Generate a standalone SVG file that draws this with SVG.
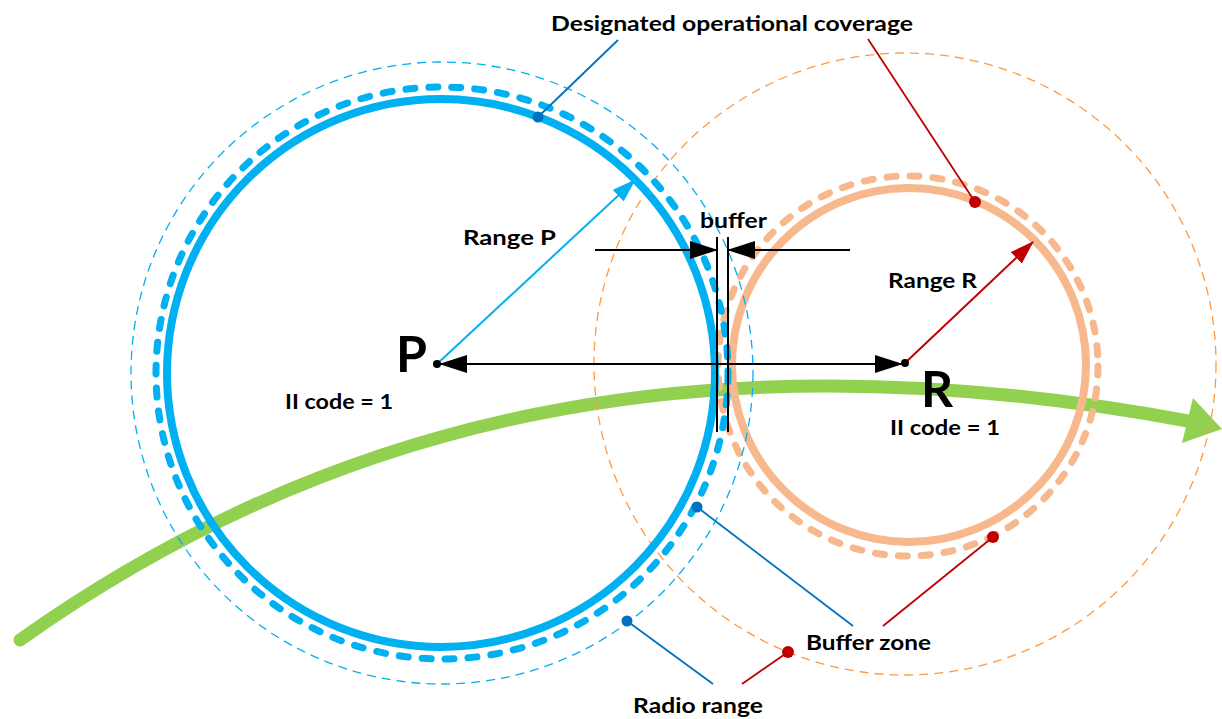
<svg xmlns="http://www.w3.org/2000/svg" width="1222" height="719" viewBox="0 0 1222 719">
<style>
text{font-family:Lato,"Liberation Sans",sans-serif;font-weight:bold;fill:#000}
.lbl{font-size:21px}
.big{font-size:50px}
.bsolid{fill:none;stroke:#00B0F0;stroke-width:8}
.bdash{fill:none;stroke:#00B0F0;stroke-width:7;stroke-dasharray:9 14;stroke-linecap:round}
.bthin{fill:none;stroke:#00B0F0;stroke-width:1.3;stroke-dasharray:9 6}
.osolid{fill:none;stroke:#F8B88E;stroke-width:8}
.odash{fill:none;stroke:#F8B88E;stroke-width:7;stroke-dasharray:9 14;stroke-linecap:round}
.othin{fill:none;stroke:#FF9A3C;stroke-width:1.3;stroke-dasharray:9 6}
.blk{stroke:#000;stroke-width:2;fill:none}
.cb{stroke:#0070C0;stroke-width:1.8;fill:none}
.cr{stroke:#C00000;stroke-width:1.8;fill:none}
</style>
<defs>
<marker id="ah" viewBox="0 0 28 18" refX="27" refY="9" markerWidth="28" markerHeight="18" markerUnits="userSpaceOnUse" orient="auto-start-reverse"><path d="M0,0 L28,9 L0,18 z" fill="#000"/></marker>
<marker id="ahb" viewBox="0 0 24 16" refX="23" refY="8" markerWidth="24" markerHeight="16" markerUnits="userSpaceOnUse" orient="auto"><path d="M0,0 L24,8 L0,16 z" fill="#00B0F0"/></marker>
<marker id="ahr" viewBox="0 0 24 16" refX="23" refY="8" markerWidth="24" markerHeight="16" markerUnits="userSpaceOnUse" orient="auto"><path d="M0,0 L24,8 L0,16 z" fill="#C00000"/></marker>
</defs>

<g id="flight-path">
<path d="M20,640 C330,420 700,330 1188,421" fill="none" stroke="#92D050" stroke-width="13" stroke-linecap="round"/>
<polygon points="1193,398 1222,429 1182,443" fill="#92D050"/>
</g>

<g id="node-R-circles">
<circle class="othin" cx="905" cy="364" r="311"/>
<circle class="odash" cx="908" cy="366" r="190"/>
<circle class="osolid" cx="909" cy="365" r="177"/>
</g>

<g id="node-P-circles">
<circle class="bthin" cx="442" cy="373" r="311"/>
<circle class="bdash" cx="442" cy="373" r="286"/>
<circle class="bsolid" cx="441" cy="373" r="274"/>
</g>

<g id="connectors">
<line class="blk" x1="717" y1="237" x2="717" y2="432"/>
<line class="blk" x1="728" y1="237" x2="728" y2="432"/>
<line class="blk" x1="595" y1="250" x2="717" y2="250" marker-end="url(#ah)"/>
<line class="blk" x1="850" y1="250" x2="728" y2="250" marker-end="url(#ah)"/>
<line class="blk" x1="440" y1="364" x2="902" y2="364" marker-start="url(#ah)" marker-end="url(#ah)"/>
<line x1="437" y1="364" x2="635" y2="180" stroke="#00B0F0" stroke-width="2" marker-end="url(#ahb)"/>
<line x1="905" y1="363" x2="1033" y2="242" stroke="#C00000" stroke-width="2" marker-end="url(#ahr)"/>
<line class="cb" x1="618" y1="40" x2="538" y2="117"/>
<line class="cr" x1="868" y1="39" x2="975" y2="202"/>
<line class="cb" x1="697" y1="507" x2="853" y2="626"/>
<line class="cr" x1="883" y1="626" x2="993" y2="537"/>
<line class="cb" x1="627" y1="621" x2="713" y2="684"/>
<line class="cr" x1="788" y1="652" x2="742" y2="684"/>
<circle cx="538" cy="117" r="5.5" fill="#0070C0"/>
<circle cx="975" cy="202" r="6" fill="#C00000"/>
<circle cx="697" cy="507" r="5.5" fill="#0070C0"/>
<circle cx="993" cy="537" r="6" fill="#C00000"/>
<circle cx="627" cy="621" r="5.5" fill="#0070C0"/>
<circle cx="788" cy="652" r="6" fill="#C00000"/>
</g>

<g id="node-P">
<circle cx="437" cy="364" r="4" fill="#000"/>
<text class="big" x="396" y="372">P</text>
<text class="lbl" x="285" y="409" textLength="108" lengthAdjust="spacingAndGlyphs">II code = 1</text>
<text class="lbl" x="463" y="245" textLength="93" lengthAdjust="spacingAndGlyphs">Range P</text>
</g>

<g id="node-R">
<circle cx="905" cy="363" r="4" fill="#000"/>
<text class="big" x="921" y="407">R</text>
<text class="lbl" x="890" y="435" textLength="110" lengthAdjust="spacingAndGlyphs">II code = 1</text>
<text class="lbl" x="888" y="288" textLength="89" lengthAdjust="spacingAndGlyphs">Range R</text>
</g>

<g id="labels">
<text class="lbl" x="700" y="228" textLength="67" lengthAdjust="spacingAndGlyphs">buffer</text>
<text class="lbl" x="551" y="31" textLength="362" lengthAdjust="spacingAndGlyphs">Designated operational coverage</text>
<text class="lbl" x="806" y="650" textLength="125" lengthAdjust="spacingAndGlyphs">Buffer zone</text>
<text class="lbl" x="633" y="713" textLength="130" lengthAdjust="spacingAndGlyphs">Radio range</text>
</g>
</svg>
